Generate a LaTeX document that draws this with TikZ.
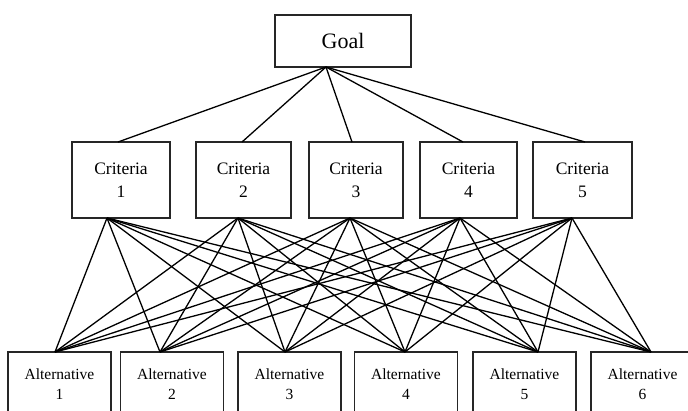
\documentclass[tikz,border=0pt]{standalone}
\usepackage{fontspec}
\setmainfont{Liberation Serif}
\begin{document}
\begin{tikzpicture}[x=1pt,y=-1pt,
  box/.style={draw=black!85,line width=1.6pt,fill=white,rectangle,inner sep=0pt,align=center},
  goalbox/.style={box,minimum width=136pt,minimum height=52pt,font=\fontsize{22}{26}\selectfont},
  critbox/.style={box,minimum height=76pt,font=\fontsize{17.5}{23}\selectfont},
  altbox/.style={box,minimum width=103pt,minimum height=64pt,font=\fontsize{15.5}{20}\selectfont},
  link/.style={line width=1.3pt,black}]
\useasboundingbox (0,0) rectangle (688,410);
\clip (0,0) rectangle (688,410);

% goal
\node[goalbox] (goal) at (343,41) {Goal};
\coordinate (gb) at (326,67);

% criteria
\node[critbox,minimum width=98pt] (c1) at (121,180) {Criteria\\1};
\node[critbox,minimum width=95pt] (c2) at (243.5,180) {Criteria\\2};
\node[critbox,minimum width=94pt] (c3) at (356,180) {Criteria\\3};
\node[critbox,minimum width=97pt] (c4) at (468.5,180) {Criteria\\4};
\node[critbox,minimum width=99pt] (c5) at (582.5,180) {Criteria\\5};

% attachment points on the criteria boxes
\coordinate (c1t) at (118,142); \coordinate (c1b) at (107,218);
\coordinate (c2t) at (242,142); \coordinate (c2b) at (238,218);
\coordinate (c3t) at (352,142); \coordinate (c3b) at (350,218);
\coordinate (c4t) at (463,142); \coordinate (c4b) at (460,218);
\coordinate (c5t) at (585,142); \coordinate (c5b) at (572,218);

% alternatives
\node[altbox] (a1) at (59.5,384) {Alternative\\1};
\node[altbox] (a2) at (172,384) {Alternative\\2};
\node[altbox] (a3) at (289.5,384) {Alternative\\3};
\node[altbox] (a4) at (406,384) {Alternative\\4};
\node[altbox] (a5) at (524.5,384) {Alternative\\5};
\node[altbox] (a6) at (642.5,384) {Alternative\\6};

\coordinate (a1t) at (55,352);
\coordinate (a2t) at (160,352);
\coordinate (a3t) at (285,352);
\coordinate (a4t) at (405,352);
\coordinate (a5t) at (538,352);
\coordinate (a6t) at (651,352);

% goal to criteria
\foreach \c in {1,...,5}
  \draw[link] (gb) -- (c\c t);

% every criterion to every alternative
\foreach \c in {1,...,5}
  \foreach \a in {1,...,6}
    \draw[link] (c\c b) -- (a\a t);
\end{tikzpicture}
\end{document}
